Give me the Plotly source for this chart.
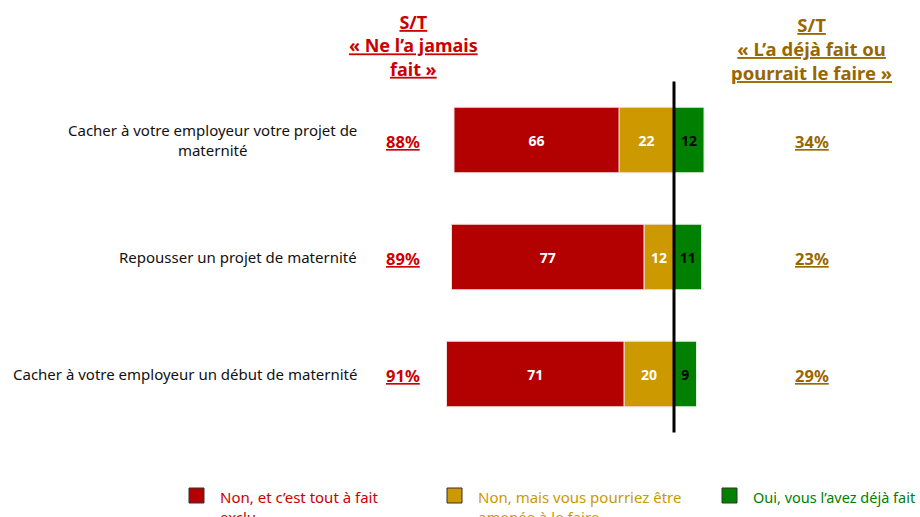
import plotly.graph_objects as go

# Data
items = [
    "Cacher à votre employeur votre projet de<br>maternité",
    "Repousser un projet de maternité",
    "Cacher à votre employeur un début de maternité",
]
exclu = [66, 77, 71]          # Non, et c'est tout à fait exclu
amenee = [22, 12, 20]         # Non, mais vous pourriez être amenée à le faire
deja_fait = [12, 11, 9]       # Oui, vous l'avez déjà fait
st_jamais = ["88%", "89%", "91%"]
st_deja = ["34%", "23%", "29%"]

series_names = [
    "Non, et c’est tout à fait<br>exclu",
    "Non, mais vous pourriez être<br>amenée à le faire",
    "Oui, vous l’avez déjà fait",
]

RED = "#B30000"
RED_TXT = "#CC0000"
YELLOW = "#CC9900"
GREEN = "#008000"
GOLD = "#996600"
FONT = "Noto Sans"

fig = go.Figure()

# yellow first so it sits next to the zero line, red stacks further left
fig.add_trace(go.Bar(
    y=items, x=[-v for v in amenee], orientation="h",
    marker=dict(color=YELLOW, line=dict(color="#f3dede", width=1)),
    text=amenee, textposition="inside", insidetextanchor="middle",
    textfont=dict(color="white", size=14, family=FONT, weight="bold"),
    width=0.56, showlegend=False,
))
fig.add_trace(go.Bar(
    y=items, x=[-v for v in exclu], orientation="h",
    marker=dict(color=RED, line=dict(color="#f3dede", width=1)),
    text=exclu, textposition="inside", insidetextanchor="middle",
    textfont=dict(color="white", size=14, family=FONT, weight="bold"),
    width=0.56, showlegend=False,
))
fig.add_trace(go.Bar(
    y=items, x=deja_fait, orientation="h",
    marker=dict(color=GREEN, line=dict(color="#dff0df", width=1)),
    text=deja_fait, textposition="inside", insidetextanchor="middle",
    textfont=dict(color="black", size=14, family=FONT, weight="bold"),
    width=0.56, showlegend=False,
))

# zero line
fig.add_shape(type="line", xref="x", yref="y", x0=0, x1=0, y0=-0.5, y1=2.5,
              line=dict(color="black", width=3))

# row labels and S/T values
for i, lab in enumerate(items):
    fig.add_annotation(x=359 / 920, xref="paper", y=i, yref="y", text=lab,
                       xanchor="right", align="center", showarrow=False,
                       font=dict(family=FONT, size=15, color="#111111"))
    fig.add_annotation(x=403 / 920, xref="paper", y=i, yref="y", yshift=-1,
                       text=f"<b>{st_jamais[i]}</b>", xanchor="center", showarrow=False,
                       font=dict(family=FONT, size=16.5, color=RED_TXT, lineposition="under"))
    fig.add_annotation(x=812 / 920, xref="paper", y=i, yref="y", yshift=-1,
                       text=f"<b>{st_deja[i]}</b>", xanchor="center", showarrow=False,
                       font=dict(family=FONT, size=16.5, color=GOLD, lineposition="under"))

# column headers
fig.add_annotation(x=413 / 920, xref="paper", y=1 - 8 / 517, yref="paper",
                   text="<b>S/T<br>« Ne l’a jamais<br>fait »</b>", xanchor="center", yanchor="top",
                   align="center", showarrow=False,
                   font=dict(family=FONT, size=18, color=RED_TXT, lineposition="under"))
fig.add_annotation(x=811 / 920, xref="paper", y=1 - 10 / 517, yref="paper",
                   text="<b>S/T<br>« L’a déjà fait ou<br>pourrait le faire »</b>", xanchor="center",
                   yanchor="top", align="center", showarrow=False,
                   font=dict(family=FONT, size=18.5, color=GOLD, lineposition="under"))

# legend
legend_cols = [RED, YELLOW, GREEN]
legend_txt = [RED_TXT, YELLOW, GREEN]
legend_size = [15, 15, 14.5]
sq_x = [189, 447, 722]
for name, c, tc, fs, sx in zip(series_names, legend_cols, legend_txt, legend_size, sq_x):
    fig.add_shape(type="rect", xref="paper", yref="paper",
                  x0=sx / 920, x1=(sx + 15) / 920, y0=1 - 503 / 517, y1=1 - 488 / 517,
                  fillcolor=c, line=dict(color="#333333", width=1))
    fig.add_annotation(x=(sx + 29) / 920, xref="paper", y=1 - 485 / 517, yref="paper",
                       text=name, xanchor="left", yanchor="top", align="left", showarrow=False,
                       font=dict(family=FONT, size=fs, color=tc))

fig.update_layout(
    width=920, height=517,
    barmode="relative",
    margin=dict(l=0, r=0, t=0, b=0),
    plot_bgcolor="white", paper_bgcolor="white",
    font=dict(family=FONT),
)
fig.update_xaxes(range=[-674 / 2.5, (920 - 674) / 2.5], visible=False, fixedrange=True)
fig.update_yaxes(type="category", range=[(517 - 140) / 117, -140 / 117], visible=False)

fig.write_html("out.html", config={"displayModeBar": False})

# drop the default page margin so the figure sits at the window's top-left corner
with open("out.html", encoding="utf-8") as f:
    html = f.read()
html = html.replace("<body>", '<body style="margin:0;overflow:hidden">', 1)
with open("out.html", "w", encoding="utf-8") as f:
    f.write(html)
